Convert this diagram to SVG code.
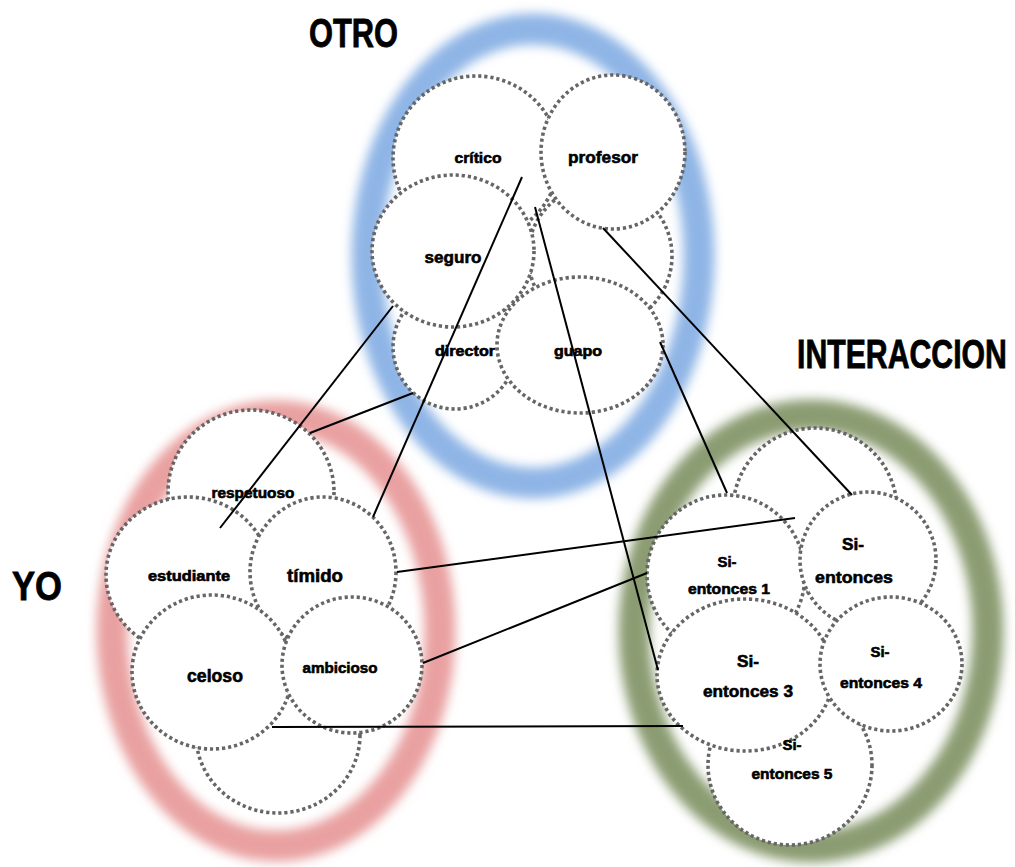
<svg xmlns="http://www.w3.org/2000/svg" width="1015" height="867" viewBox="0 0 1015 867">
<defs>
<filter id="soft" x="-20%" y="-20%" width="140%" height="140%"><feGaussianBlur stdDeviation="5.5"/></filter>
<style>
.ring{fill:none;stroke-width:31;filter:url(#soft)}
.c{fill:#fff;stroke:#666;stroke-width:3.6;stroke-dasharray:3.2 2.9}
.t{font-family:"Liberation Sans",Arial,sans-serif;font-weight:bold;fill:#000;stroke:#000;stroke-width:0.6;text-anchor:middle}
.h{font-family:"Liberation Sans",Arial,sans-serif;font-weight:bold;fill:#000;stroke:#000;stroke-width:0.8}
.ln{stroke:#000;stroke-width:2;fill:none}
</style>
</defs>
<rect width="1015" height="867" fill="#fff"/>
<g id="rings">
<ellipse class="ring" cx="533" cy="256" rx="166" ry="227" stroke="#8fb5e6"/>
<ellipse class="ring" cx="276" cy="631" rx="164" ry="215" stroke="#e9a0a0"/>
<ellipse class="ring" cx="811" cy="631" rx="177" ry="216" stroke="#8b9c72"/>
</g>
<g id="otro">
<ellipse class="c" cx="600" cy="256" rx="72" ry="72"/>
<ellipse class="c" cx="476" cy="158" rx="83" ry="82"/>
<ellipse class="c" cx="613" cy="152" rx="72" ry="77"/>
<ellipse class="c" cx="455" cy="347" rx="62" ry="62"/>
<ellipse class="c" cx="453" cy="251" rx="81" ry="76"/>
<ellipse class="c" cx="580" cy="345" rx="83" ry="68"/>
</g>
<g id="yo">
<ellipse class="c" cx="278" cy="735" rx="82" ry="78"/>
<ellipse class="c" cx="251" cy="492" rx="83" ry="82"/>
<ellipse class="c" cx="188" cy="575" rx="82" ry="78"/>
<ellipse class="c" cx="323" cy="572" rx="73" ry="75"/>
<ellipse class="c" cx="212" cy="672" rx="80" ry="77"/>
<ellipse class="c" cx="352" cy="665" rx="70" ry="68"/>
</g>
<g id="interaccion">
<ellipse class="c" cx="815" cy="510" rx="82" ry="82"/>
<ellipse class="c" cx="790" cy="765" rx="82" ry="80"/>
<ellipse class="c" cx="726" cy="575" rx="79" ry="80"/>
<ellipse class="c" cx="868" cy="560" rx="68" ry="68"/>
<ellipse class="c" cx="745" cy="675" rx="88" ry="76"/>
<ellipse class="c" cx="891" cy="664" rx="71" ry="67"/>
</g>
<g id="connectors">
<line class="ln" x1="522" y1="177" x2="373" y2="517"/>
<line class="ln" x1="393" y1="306" x2="220" y2="528"/>
<line class="ln" x1="413" y1="393" x2="310" y2="433"/>
<line class="ln" x1="535" y1="207" x2="658" y2="670"/>
<line class="ln" x1="603" y1="228" x2="852" y2="495"/>
<line class="ln" x1="660" y1="342" x2="727" y2="493"/>
<line class="ln" x1="397" y1="572" x2="795" y2="518"/>
<line class="ln" x1="423" y1="663" x2="647" y2="573"/>
<line class="ln" x1="272" y1="727" x2="683" y2="726"/>
</g>
<g id="labels">
<text class="t" x="478" y="163" font-size="15" textLength="47" lengthAdjust="spacingAndGlyphs">crítico</text>
<text class="t" x="603" y="163" font-size="17" textLength="70" lengthAdjust="spacingAndGlyphs">profesor</text>
<text class="t" x="453" y="263" font-size="17" textLength="57" lengthAdjust="spacingAndGlyphs">seguro</text>
<text class="t" x="465" y="356" font-size="14" textLength="60" lengthAdjust="spacingAndGlyphs">director</text>
<text class="t" x="578" y="356" font-size="14" textLength="48" lengthAdjust="spacingAndGlyphs">guapo</text>
<text class="t" x="253" y="498" font-size="14" textLength="83" lengthAdjust="spacingAndGlyphs">respetuoso</text>
<text class="t" x="189" y="581" font-size="14" textLength="82" lengthAdjust="spacingAndGlyphs">estudiante</text>
<text class="t" x="315" y="582" font-size="18" textLength="56" lengthAdjust="spacingAndGlyphs">tímido</text>
<text class="t" x="215" y="682" font-size="18" textLength="56" lengthAdjust="spacingAndGlyphs">celoso</text>
<text class="t" x="340" y="673" font-size="15" textLength="75" lengthAdjust="spacingAndGlyphs">ambicioso</text>
<text class="t" x="727" y="567" font-size="15" textLength="19" lengthAdjust="spacingAndGlyphs">Si-</text>
<text class="t" x="729" y="594" font-size="15" textLength="82" lengthAdjust="spacingAndGlyphs">entonces 1</text>
<text class="t" x="853" y="550" font-size="17" textLength="22" lengthAdjust="spacingAndGlyphs">Si-</text>
<text class="t" x="854" y="583" font-size="17" textLength="78" lengthAdjust="spacingAndGlyphs">entonces</text>
<text class="t" x="748" y="667" font-size="17" textLength="22" lengthAdjust="spacingAndGlyphs">Si-</text>
<text class="t" x="748" y="697" font-size="17" textLength="90" lengthAdjust="spacingAndGlyphs">entonces 3</text>
<text class="t" x="880" y="657" font-size="15" textLength="19" lengthAdjust="spacingAndGlyphs">Si-</text>
<text class="t" x="881" y="688" font-size="15" textLength="82" lengthAdjust="spacingAndGlyphs">entonces 4</text>
<text class="t" x="792" y="750" font-size="15" textLength="19" lengthAdjust="spacingAndGlyphs">Si-</text>
<text class="t" x="792" y="779" font-size="15" textLength="81" lengthAdjust="spacingAndGlyphs">entonces 5</text>
<text class="h" x="309" y="47" font-size="40" textLength="89" lengthAdjust="spacingAndGlyphs">OTRO</text>
<text class="h" transform="matrix(0.756 0 0 1 797 368)" x="0" y="0" font-size="40">INTERACCION</text>
<text class="h" x="12" y="600" font-size="40" textLength="50" lengthAdjust="spacingAndGlyphs">YO</text>
</g>
</svg>
